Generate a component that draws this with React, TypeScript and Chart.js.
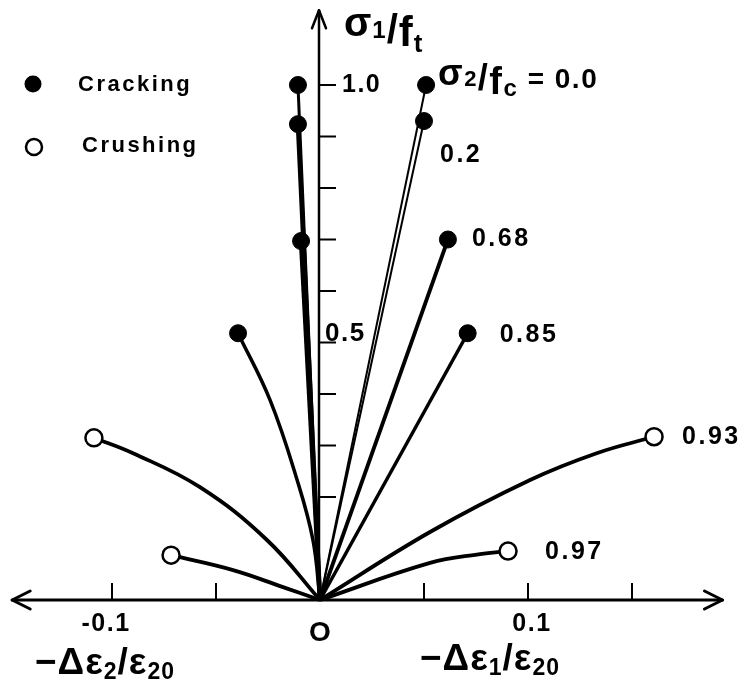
import { useEffect, useRef } from "react";
import { Chart, registerables } from "chart.js";
Chart.register(...registerables);

// σ2/fc ratios of the loading paths
const ratioLabels = ["0.0", "0.2", "0.68", "0.85", "0.93", "0.97"];
const crushingRatios = ["0.93", "0.97"];

// right branches: -Δε1/ε20 (x) vs σ1/ft (y)
const r000x = [0, 0.051];
const r000y = [0, 1.0];
const r020x = [0, 0.050];
const r020y = [0, 0.93];
const r068x = [0, 0.0615];
const r068y = [0, 0.70];
const r085x = [0, 0.071];
const r085y = [0, 0.518];
const r093x = [0, 0.0529, 0.101, 0.133, 0.1606];
const r093y = [0, 0.132, 0.233, 0.285, 0.317];
const r097x = [0, 0.0529, 0.0769, 0.0904];
const r097y = [0, 0.072, 0.089, 0.095];

// left branches: -Δε2/ε20 (plotted to the left) vs σ1/ft
const l000x = [0, -0.0106];
const l000y = [0, 1.0];
const l020x = [0, -0.0106];
const l020y = [0, 0.924];
const l068x = [0, -0.0091];
const l068y = [0, 0.697];
const l085x = [0, -0.0034, -0.011, -0.024, -0.0394];
const l085y = [0, 0.1165, 0.233, 0.388, 0.518];
const l093x = [0, -0.0255, -0.0577, -0.0899, -0.1087];
const l093y = [0, 0.1165, 0.219, 0.285, 0.315];
const l097x = [0, -0.0178, -0.0418, -0.0716];
const l097y = [0, 0.025, 0.058, 0.087];

// axis ticks
const xTickValues = [-0.1, -0.05, 0.05, 0.1, 0.15];
const xTickLabels = [
  { v: -0.1, t: "-0.1" },
  { v: 0.1, t: "0.1" },
];
const yTickValues = [0.2, 0.3, 0.4, 0.5, 0.6, 0.7, 0.8, 0.9, 1.0];

const FONT = '"Liberation Sans", Arial, sans-serif';

type Seg = { t: string; s: number; dy?: number };

function drawRich(ctx: CanvasRenderingContext2D, x: number, y: number, segs: Seg[], spacing = 1) {
  let cx = x;
  for (const seg of segs) {
    ctx.font = `bold ${seg.s}px ${FONT}`;
    (ctx as any).letterSpacing = `${spacing}px`;
    ctx.textAlign = "left";
    ctx.textBaseline = "alphabetic";
    ctx.fillText(seg.t, cx, y + (seg.dy || 0));
    cx += ctx.measureText(seg.t).width;
  }
}

function text(
  ctx: CanvasRenderingContext2D,
  t: string,
  x: number,
  y: number,
  size: number,
  align: CanvasTextAlign = "left",
  spacing = 2,
  base: CanvasTextBaseline = "middle"
) {
  ctx.font = `bold ${size}px ${FONT}`;
  (ctx as any).letterSpacing = `${spacing}px`;
  ctx.textAlign = align;
  ctx.textBaseline = base;
  ctx.fillText(t, x, y);
}

export default function App() {
  const ref = useRef<HTMLCanvasElement | null>(null);

  useEffect(() => {
    if (!ref.current) return;

    const branches = [
      { r: "0.0", xs: r000x, ys: r000y, w: 2 },
      { r: "0.2", xs: r020x, ys: r020y, w: 2 },
      { r: "0.68", xs: r068x, ys: r068y, w: 3.8 },
      { r: "0.85", xs: r085x, ys: r085y, w: 3.5 },
      { r: "0.93", xs: r093x, ys: r093y, w: 3.8 },
      { r: "0.97", xs: r097x, ys: r097y, w: 3.8 },
      { r: "0.0", xs: l000x, ys: l000y, w: 3 },
      { r: "0.2", xs: l020x, ys: l020y, w: 4.5 },
      { r: "0.68", xs: l068x, ys: l068y, w: 4.5 },
      { r: "0.85", xs: l085x, ys: l085y, w: 3.5 },
      { r: "0.93", xs: l093x, ys: l093y, w: 3.8 },
      { r: "0.97", xs: l097x, ys: l097y, w: 3.8 },
    ];

    const datasets = branches.map((b) => {
      const crush = crushingRatios.includes(b.r);
      const n = b.xs.length;
      return {
        label: b.r,
        data: b.xs.map((x, i) => ({ x, y: b.ys[i] })),
        showLine: true,
        borderColor: "#000",
        borderWidth: b.w,
        tension: n > 2 ? 0.4 : 0,
        pointRadius: (c: any) => (c.dataIndex === n - 1 ? 8.5 : 0),
        pointHoverRadius: 0,
        pointBackgroundColor: crush ? "#fff" : "#000",
        pointBorderColor: "#000",
        pointBorderWidth: crush ? 2.5 : 1,
        clip: false as any,
      };
    });

    const axesPlugin = {
      id: "centerAxes",
      beforeDatasetsDraw(chart: any) {
        const ctx: CanvasRenderingContext2D = chart.ctx;
        const xs = chart.scales.x;
        const ys = chart.scales.y;
        const ox = xs.getPixelForValue(0);
        const oy = ys.getPixelForValue(0);
        const yAxisX = ox - 1;
        ctx.save();
        ctx.strokeStyle = "#000";
        ctx.lineCap = "round";
        ctx.lineJoin = "round";
        // x axis
        const xl = xs.getPixelForValue(-0.148);
        const xr = xs.getPixelForValue(0.1935);
        ctx.lineWidth = 3;
        ctx.beginPath();
        ctx.moveTo(xl, oy);
        ctx.lineTo(xr, oy);
        ctx.stroke();
        ctx.beginPath();
        ctx.moveTo(xl + 18, oy - 9);
        ctx.lineTo(xl, oy);
        ctx.lineTo(xl + 18, oy + 9);
        ctx.moveTo(xr - 18, oy - 9);
        ctx.lineTo(xr, oy);
        ctx.lineTo(xr - 18, oy + 9);
        ctx.stroke();
        // y axis
        const yt = ys.getPixelForValue(1.145);
        ctx.lineWidth = 2.5;
        ctx.beginPath();
        ctx.moveTo(yAxisX, oy);
        ctx.lineTo(yAxisX, yt);
        ctx.stroke();
        ctx.beginPath();
        ctx.moveTo(yAxisX - 7, yt + 18);
        ctx.lineTo(yAxisX, yt);
        ctx.lineTo(yAxisX + 7, yt + 18);
        ctx.stroke();
        // ticks
        ctx.lineCap = "butt";
        ctx.lineWidth = 2;
        for (const v of xTickValues) {
          const px = xs.getPixelForValue(v);
          ctx.beginPath();
          ctx.moveTo(px, oy);
          ctx.lineTo(px, oy - 17);
          ctx.stroke();
        }
        for (const v of yTickValues) {
          const py = ys.getPixelForValue(v);
          ctx.beginPath();
          ctx.moveTo(yAxisX, py);
          ctx.lineTo(yAxisX + 17, py);
          ctx.stroke();
        }
        ctx.restore();
      },
      afterDatasetsDraw(chart: any) {
        const ctx: CanvasRenderingContext2D = chart.ctx;
        const xs = chart.scales.x;
        const ys = chart.scales.y;
        const ox = xs.getPixelForValue(0);
        const oy = ys.getPixelForValue(0);
        ctx.save();
        ctx.fillStyle = "#000";
        // x tick labels
        for (const tl of xTickLabels) {
          text(ctx, tl.t, xs.getPixelForValue(tl.v) - (tl.v < 0 ? 6 : -4), oy + 24, 25, "center", 1.5);
        }
        text(ctx, "O", ox, oy + 33, 28, "center", 0);
        // y tick labels
        text(ctx, "1.0", ox + 22, ys.getPixelForValue(1.0), 25, "left", 1.5);
        text(ctx, "0.5", ox + 5, ys.getPixelForValue(0.5) - 2, 26, "left", 1.5, "alphabetic");
        // axis titles
        drawRich(ctx, ox + 24, 40, [
          { t: "σ", s: 40, dy: -4 },
          { t: "1", s: 24, dy: -2 },
          { t: "/", s: 40, dy: 3 },
          { t: "f", s: 42, dy: 6 },
          { t: "t", s: 26, dy: 12 },
        ], 1);
        drawRich(ctx, 35, 674, [
          { t: "−Δε", s: 37 },
          { t: "2", s: 23, dy: 5 },
          { t: "/ε", s: 37 },
          { t: "20", s: 23, dy: 5 },
        ], 1);
        drawRich(ctx, 420, 670, [
          { t: "−Δε", s: 37 },
          { t: "1", s: 23, dy: 5 },
          { t: "/ε", s: 37 },
          { t: "20", s: 23, dy: 5 },
        ], 1);
        // σ2/fc labels
        drawRich(ctx, 438, 88, [
          { t: "σ", s: 36, dy: -3 },
          { t: "2", s: 22, dy: -2 },
          { t: "/", s: 36, dy: 2 },
          { t: "f", s: 38, dy: 6 },
          { t: "c", s: 24, dy: 8 },
          { t: " = 0.0", s: 28, dy: 0 },
        ], 1.5);
        const lab = (r: string, xv: number[], yv: number[], dx: number, dy: number) => {
          const n = xv.length - 1;
          text(ctx, r, xs.getPixelForValue(xv[n]) + dx, ys.getPixelForValue(yv[n]) + dy, 25, "left", 2.5);
        };
        lab(ratioLabels[1], r020x, r020y, 16, 34);
        lab(ratioLabels[2], r068x, r068y, 24, 0);
        lab(ratioLabels[3], r085x, r085y, 32, 2);
        lab(ratioLabels[4], r093x, r093y, 28, 0);
        lab(ratioLabels[5], r097x, r097y, 37, 1);
        // legend
        ctx.beginPath();
        ctx.arc(33, 84, 8.5, 0, Math.PI * 2);
        ctx.fill();
        ctx.beginPath();
        ctx.arc(34, 147, 8, 0, Math.PI * 2);
        ctx.fillStyle = "#fff";
        ctx.fill();
        ctx.lineWidth = 2.5;
        ctx.strokeStyle = "#000";
        ctx.stroke();
        ctx.fillStyle = "#000";
        text(ctx, "Cracking", 78, 85, 22, "left", 2.5);
        text(ctx, "Crushing", 82, 146, 22, "left", 2.5);
        ctx.restore();
      },
    };

    const W = 749;
    const H = 679;
    const OX = 320;
    const OY = 600;
    const PX_X = 2080;
    const PX_Y = 515;

    const chart = new Chart(ref.current, {
      type: "scatter",
      data: { datasets: datasets as any },
      options: {
        animation: false,
        responsive: false,
        layout: { padding: 0, autoPadding: false } as any,
        plugins: { legend: { display: false }, tooltip: { enabled: false } },
        events: [],
        scales: {
          x: { type: "linear", display: false, min: -OX / PX_X, max: (W - OX) / PX_X },
          y: { type: "linear", display: false, min: -(H - OY) / PX_Y, max: OY / PX_Y },
        },
      },
      plugins: [axesPlugin],
    });
    return () => chart.destroy();
  }, []);

  return (
    <div style={{ position: "absolute", left: 0, top: 0, width: 749, height: 679, background: "#fff" }}>
      <canvas ref={ref} width={749} height={679} style={{ display: "block", width: 749, height: 679 }} />
    </div>
  );
}
